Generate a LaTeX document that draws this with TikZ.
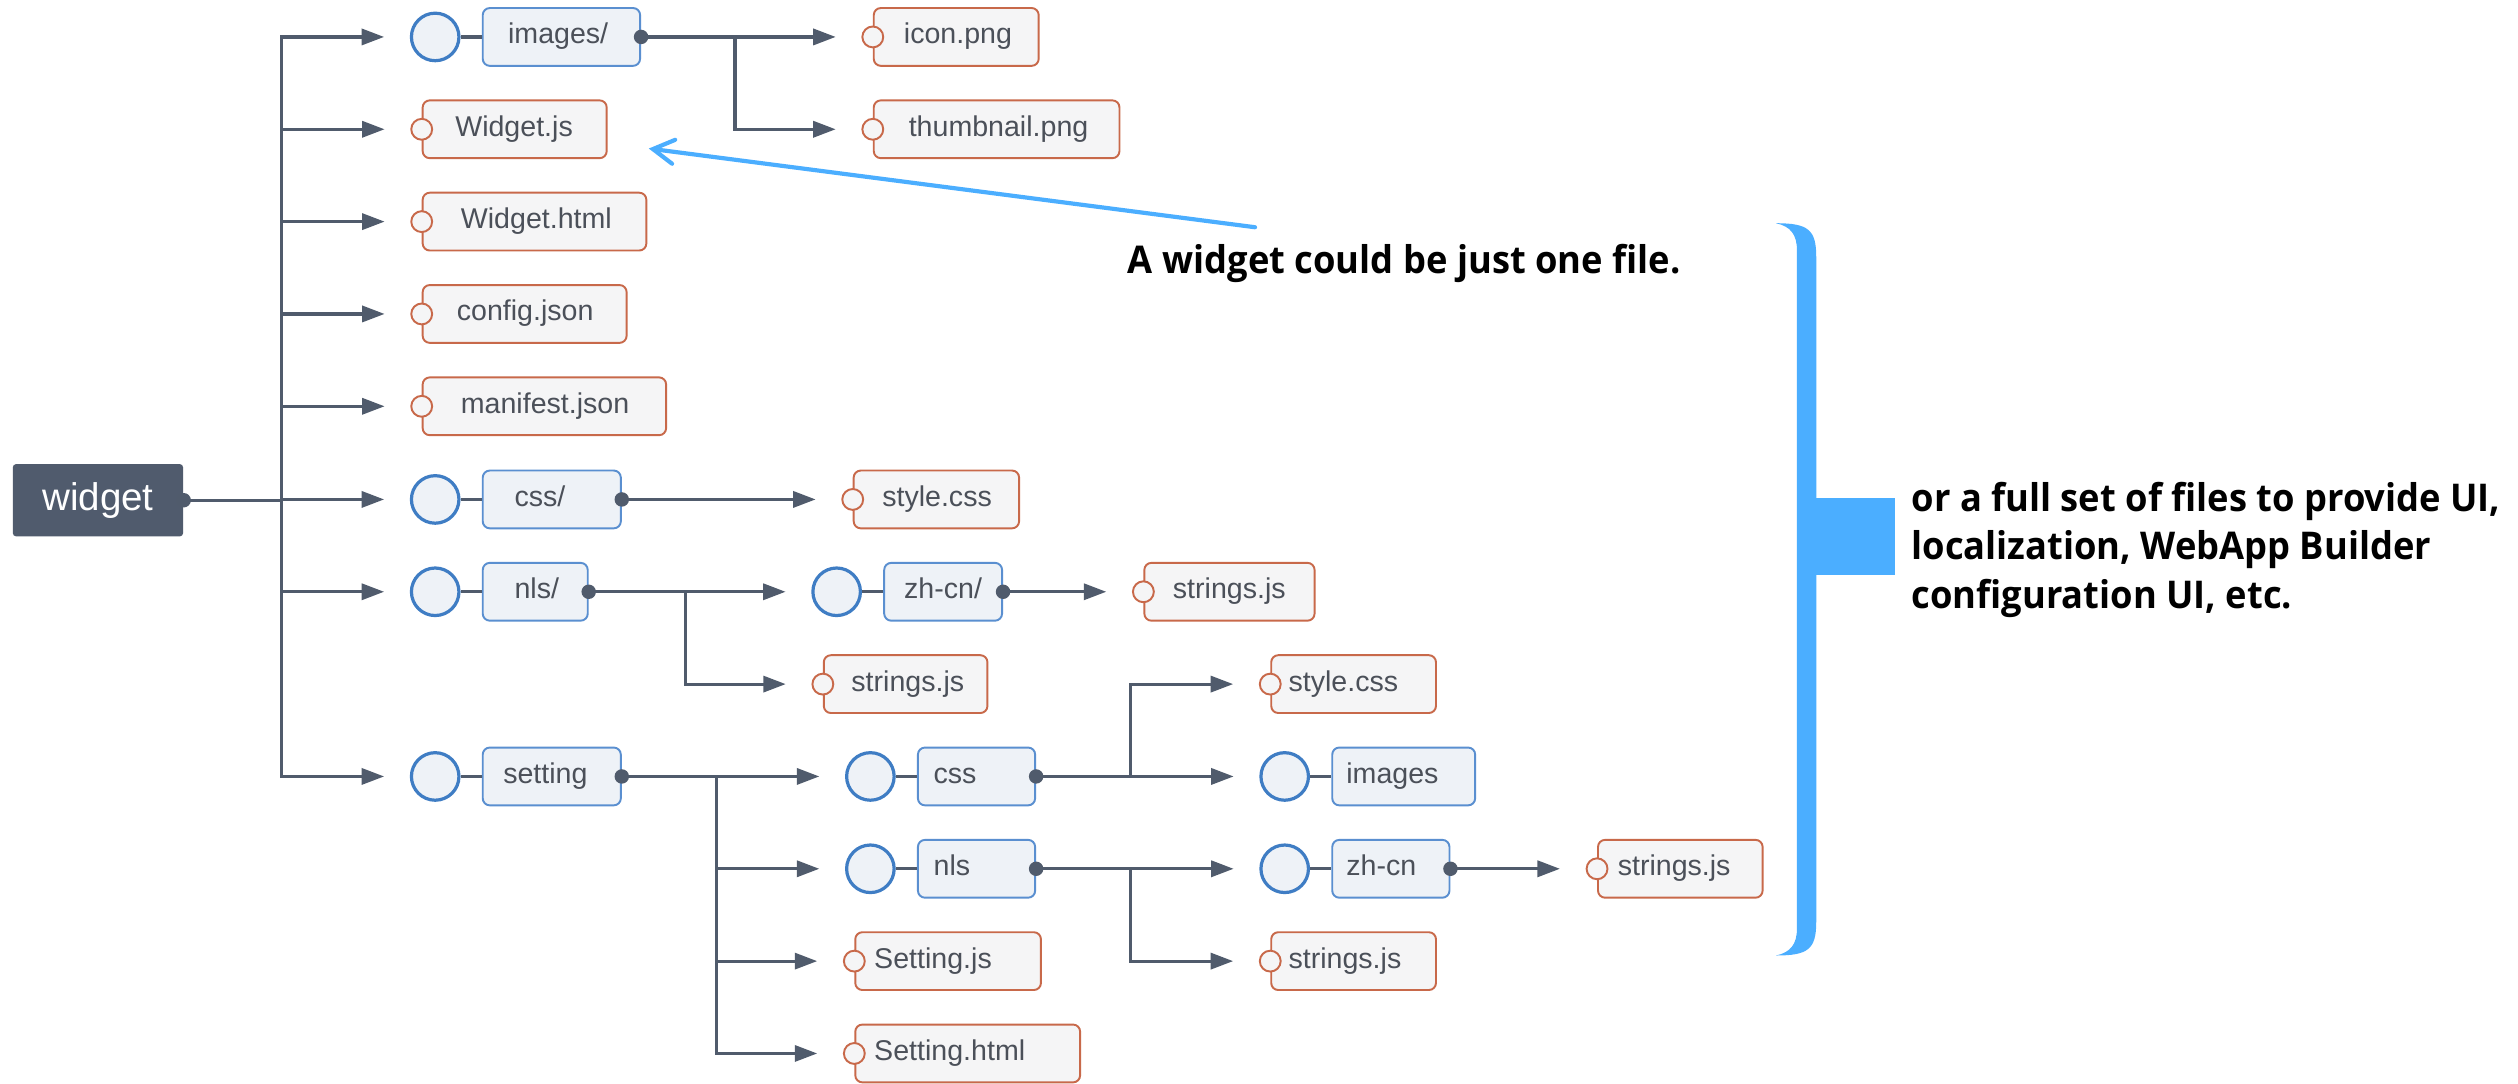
\documentclass[tikz,border=0pt]{standalone}
\usepackage{fontspec}
\setmainfont{Liberation Sans}
\newfontfamily\annfont{Open Sans}[FakeStretch=0.95]
\usetikzlibrary{arrows.meta,calc}

\definecolor{connc}{HTML}{505B6C}
\definecolor{folderb}{HTML}{5A8FD0}
\definecolor{circb}{HTML}{3F7DC4}
\definecolor{folderf}{HTML}{EEF2F7}
\definecolor{fileb}{HTML}{C8694A}
\definecolor{filef}{HTML}{F5F5F6}
\definecolor{ntextc}{HTML}{4B5059}
\definecolor{widgetc}{HTML}{505B6D}
\definecolor{bluec}{HTML}{4BAEFF}

\tikzset{
  link/.style={draw=connc, line width=1pt, -{Triangle[length=7pt,width=5pt]}, shorten >=8pt},
  plain/.style={draw=connc, line width=1pt},
  fbox/.style={rectangle, rounded corners=2.2pt, draw=folderb, fill=folderf, line width=0.6pt,
    minimum height=18pt, inner sep=0pt, anchor=west},
  fcirc/.style={circle, draw=circb, fill=folderf, line width=1pt, minimum size=14.8pt, inner sep=0pt},
  xbox/.style={rectangle, rounded corners=2.2pt, draw=fileb, fill=filef, line width=0.6pt,
    minimum height=18pt, inner sep=0pt, anchor=west},
  xcirc/.style={circle, draw=fileb, fill=filef, line width=0.6pt, minimum size=6.5pt, inner sep=0pt},
  ntext/.style={text=ntextc, font=\fontsize{8.9pt}{10pt}\selectfont, inner sep=0pt, anchor=west,
    text height=6.3pt, text depth=2pt},
  pdot/.style={circle, fill=connc, minimum size=4.5pt, inner sep=0pt},
  ann/.style={text=black, font=\annfont\bfseries\fontsize{11.9pt}{15pt}\selectfont, inner sep=0pt, anchor=base west},
}

\newcommand\fileNode[6]{%
  \node[xbox, minimum width={(#3-#2)*0.5pt}] (#1) at (#2,#4) {};
  \node[xcirc] (#1o) at (#1.west) {};
  \node[ntext] (#1t) at ([xshift={#5*0.5pt}]#1.west) {#6};
}
\newcommand\folderNode[6]{%
  \node[fbox, minimum width={(#3-#2)*0.5pt}] (#1) at (#2,#4) {};
  \node[fcirc] (#1c) at ({#2-29},#4) {};
  \draw[plain] (#1c) -- (#1);
  \node[ntext] (#1t) at ([xshift={#5*0.5pt}]#1.west) {#6};
}

\begin{document}
\begin{tikzpicture}[x=0.5pt, y=-0.5pt]
\fill[white] (0,0) rectangle (1568,675);
\useasboundingbox (0,0) rectangle (1568,675);

% root
\node[fill=widgetc, minimum width=53pt, minimum height=22.5pt, rounded corners=1pt, inner sep=0pt,
  text=white, font=\fontsize{12pt}{13pt}\selectfont] (widget) at (61,311.5) {widget};

% level 1
\folderNode{images}{300}{398}{23}{16}{images/}
\fileNode{wjs}{262.6}{377.2}{80.5}{20.5}{Widget.js}
\fileNode{whtml}{262.6}{401.9}{138}{24}{Widget.html}
\fileNode{cfg}{262.6}{389.6}{195.5}{21.5}{config.json}
\fileNode{man}{262.6}{414.2}{253}{24}{manifest.json}
\folderNode{css}{300}{386}{311}{20}{css/}
\folderNode{nls}{300}{365.4}{368.5}{20}{nls/}
\folderNode{setting}{300}{386}{483.5}{13}{setting}

% level 2
\fileNode{icon}{543.5}{646.2}{23}{19}{icon.png}
\fileNode{thumb}{543.5}{696.5}{80.5}{22}{thumbnail.png}
\fileNode{style}{531}{634}{311}{18}{style.css}
\folderNode{zh}{550}{623.4}{368.5}{12.6}{zh-cn/}
\fileNode{nstr}{512.4}{614.3}{426}{17.4}{strings.js}
\fileNode{zstr}{712}{818}{368.5}{18}{strings.js}
\folderNode{scss}{571}{644}{483.5}{10}{css}
\folderNode{snls}{571}{644}{541}{10}{nls}
\fileNode{sjs}{532}{647.6}{598.5}{12}{Setting.js}
\fileNode{shtml}{532}{672}{656}{12}{Setting.html}
\fileNode{sstyle}{791}{893.6}{426}{11}{style.css}
\folderNode{simg}{829}{918}{483.5}{9}{images}
\folderNode{szh}{829}{902}{541}{9}{zh-cn}
\fileNode{sstr}{791}{893.6}{598.5}{11}{strings.js}
\fileNode{szstr}{994.5}{1097}{541}{12.5}{strings.js}

% connectors
\foreach \t in {imagesc,wjso,whtmlo,cfgo,mano,cssc,nlsc,settingc}
  \draw[link] (widget.east) -- ++(61,0) |- (\t);
\draw[link] (images.east) -- (icono);
\draw[link] (images.east) -- ++(58.5,0) |- (thumbo);
\draw[link] (css.east) -- (styleo);
\draw[link] (nls.east) -- (zhc);
\draw[link] (nls.east) -- ++(60.5,0) |- (nstro);
\draw[link] (zh.east) -- (zstro);
\draw[link] (setting.east) -- (scssc);
\foreach \t in {snlsc,sjso,shtmlo}
  \draw[link] (setting.east) -- ++(59,0) |- (\t);
\draw[link] (scss.east) -- (simgc);
\draw[link] (scss.east) -- ++(59,0) |- (sstyleo);
\draw[link] (snls.east) -- (szhc);
\draw[link] (snls.east) -- ++(59,0) |- (sstro);
\draw[link] (szh.east) -- (szstro);

% dots
\foreach \p in {widget,images,css,nls,zh,setting,scss,snls,szh}
  \node[pdot] (\p-dot) at (\p.east) {};

% annotation arrow
\coordinate (nstart) at (781.5,141.5);
\coordinate (ntip) at (404,92.5);
\draw[bluec, line width=1.3pt, line cap=round, line join=round,
  -{Straight Barb[length=6.5pt,width=7.5pt,line cap=round]}] (nstart) -- (ntip);
\node[ann] (note1) at (702,170) {A widget could be just one file.};

% bracket
\fill[bluec] (1106,139) .. controls (1126,139) and (1131,143) .. (1131,160) -- (1131,574)
  .. controls (1131,591) and (1126,595) .. (1106,595)
  .. controls (1115,593) and (1119,588) .. (1119,578) -- (1119,156)
  .. controls (1119,146) and (1115,141) .. (1106,139) -- cycle;
\fill[bluec] (1130,310) rectangle (1180,358);

\node[ann] (note2a) at (1190,318.6) {or a full set of files to provide UI,};
\node[ann] (note2b) at (1190,348.7) {localization, WebApp Builder};
\node[ann] (note2c) at (1190,378.8) {configuration UI, etc.};
\end{tikzpicture}
\end{document}
